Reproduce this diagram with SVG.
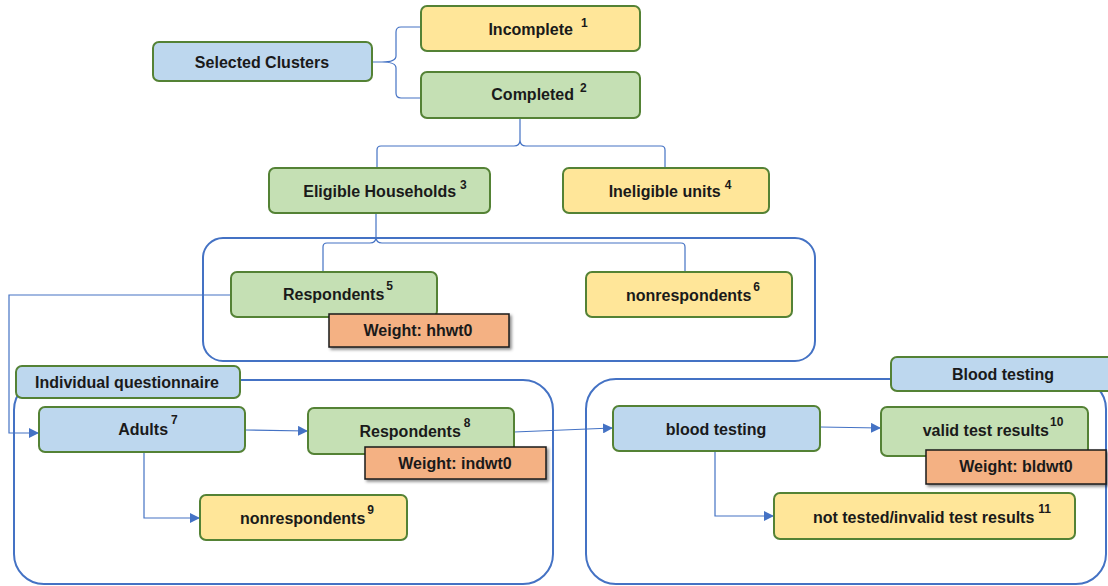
<svg xmlns="http://www.w3.org/2000/svg" width="1108" height="586" viewBox="0 0 1108 586">
<style>
text{font-family:"Liberation Sans",Arial,sans-serif;font-weight:bold;font-size:16px;fill:#1a1a1a;text-anchor:middle}
.sup{font-size:12px}
.blue{fill:#BDD7EE;stroke:#548235;stroke-width:2}
.green{fill:#C5E0B4;stroke:#548235;stroke-width:2}
.yellow{fill:#FFE699;stroke:#548235;stroke-width:2}
.weight{fill:#F4B183;stroke:#1a1a1a;stroke-width:1.5;filter:url(#sh)}
.grp{fill:#fff;stroke:#4472C4;stroke-width:2}
.con{fill:none;stroke:#4472C4;stroke-width:1.2}
</style>
<defs>
<filter id="sh" x="-10%" y="-20%" width="130%" height="160%">
<feDropShadow dx="2" dy="2" stdDeviation="1.5" flood-color="#000" flood-opacity="0.45"/>
</filter>
<marker id="arr" markerWidth="10" markerHeight="10" refX="9" refY="5" orient="auto" markerUnits="userSpaceOnUse">
<path d="M0,0 L10,5 L0,10 Z" fill="#4472C4"/>
</marker>
</defs>
<rect width="1108" height="586" fill="#fff"/>

<g id="groups">
<rect id="group-households" class="grp" x="203" y="238" width="612" height="123" rx="20"/>
<rect id="group-individual" class="grp" x="14" y="380" width="539" height="204" rx="30"/>
<rect id="group-blood" class="grp" x="586" y="379" width="520" height="205" rx="30"/>
</g>

<g id="connectors">
<path class="con" d="M421,27 H401 Q396,27 396,32 V56 Q396,62 382,62 H372 M382,62 Q396,62 396,68 V93 Q396,98 401,98 H421"/>
<path class="con" d="M377,170 V150 Q377,146 381,146 H514 Q520,146 520,140 V118 M520,140 Q520,146 526,146 H661 Q665,146 665,150 V168"/>
<path class="con" d="M323,272 V247 Q323,243 327,243 H370 Q376,243 376,237 V213 M376,237 Q376,243 382,243 H681 Q685,243 685,247 V272"/>
<path class="con" d="M231,295 H9 V433 H38" marker-end="url(#arr)"/>
<path class="con" d="M245,430 L307,431" marker-end="url(#arr)"/>
<path class="con" d="M144,452 V518 H199" marker-end="url(#arr)"/>
<path class="con" d="M514,432 L612,428" marker-end="url(#arr)"/>
<path class="con" d="M820,427 L880,428" marker-end="url(#arr)"/>
<path class="con" d="M715,451 V516 H773" marker-end="url(#arr)"/>
</g>

<g id="selected-clusters">
<rect class="blue" x="153" y="42" width="219" height="39" rx="6"/>
<text x="262" y="68">Selected Clusters</text>
</g>
<g id="incomplete">
<rect class="yellow" x="421" y="6" width="219" height="45" rx="6"/>
<text x="538" y="35">Incomplete<tspan class="sup" dx="8" dy="-8">1</tspan></text>
</g>
<g id="completed">
<rect class="green" x="421" y="72" width="219" height="46" rx="6"/>
<text x="539" y="100">Completed<tspan class="sup" dx="6" dy="-8">2</tspan></text>
</g>
<g id="eligible-households">
<rect class="green" x="269" y="168" width="221" height="45" rx="6"/>
<text x="385" y="197">Eligible Households<tspan class="sup" dx="4" dy="-8">3</tspan></text>
</g>
<g id="ineligible-units">
<rect class="yellow" x="563" y="168" width="206" height="45" rx="6"/>
<text x="670" y="197">Ineligible units<tspan class="sup" dx="4" dy="-8">4</tspan></text>
</g>
<g id="respondents-hh">
<rect class="green" x="231" y="272" width="206" height="45" rx="6"/>
<text x="338" y="300">Respondents<tspan class="sup" dx="2" dy="-10">5</tspan></text>
</g>
<g id="weight-hhwt0">
<rect class="weight" x="329" y="314" width="180" height="33"/>
<text x="418" y="336">Weight: hhwt0</text>
</g>
<g id="nonrespondents-hh">
<rect class="yellow" x="586" y="272" width="206" height="45" rx="6"/>
<text x="693" y="301">nonrespondents<tspan class="sup" dx="2" dy="-10">6</tspan></text>
</g>

<g id="label-individual">
<rect class="blue" x="16" y="366" width="224" height="32" rx="6"/>
<text x="127" y="388">Individual questionnaire</text>
</g>
<g id="adults">
<rect class="blue" x="39" y="407" width="206" height="45" rx="6"/>
<text x="148" y="435">Adults<tspan class="sup" dx="3" dy="-11">7</tspan></text>
</g>
<g id="respondents-ind">
<rect class="green" x="308" y="408" width="206" height="46" rx="6"/>
<text x="415" y="437">Respondents<tspan class="sup" dx="3" dy="-10">8</tspan></text>
</g>
<g id="weight-indwt0">
<rect class="weight" x="365" y="447" width="181" height="32"/>
<text x="455" y="469">Weight: indwt0</text>
</g>
<g id="nonrespondents-ind">
<rect class="yellow" x="200" y="495" width="207" height="45" rx="6"/>
<text x="307" y="524">nonrespondents<tspan class="sup" dx="2" dy="-10">9</tspan></text>
</g>

<g id="label-blood">
<rect class="blue" x="891" y="357" width="224" height="34" rx="6"/>
<text x="1003" y="380">Blood testing</text>
</g>
<g id="blood-testing">
<rect class="blue" x="613" y="406" width="207" height="45" rx="6"/>
<text x="716" y="435">blood testing</text>
</g>
<g id="valid-results">
<rect class="green" x="881" y="407" width="207" height="49" rx="6"/>
<text x="993" y="436">valid test results<tspan class="sup" dx="1" dy="-10">10</tspan></text>
</g>
<g id="weight-bldwt0">
<rect class="weight" x="926" y="450" width="180" height="34"/>
<text x="1016" y="472">Weight: bldwt0</text>
</g>
<g id="not-tested">
<rect class="yellow" x="774" y="493" width="301" height="46" rx="6"/>
<text x="932" y="523">not tested/invalid test results<tspan class="sup" dx="4" dy="-10">11</tspan></text>
</g>
</svg>
